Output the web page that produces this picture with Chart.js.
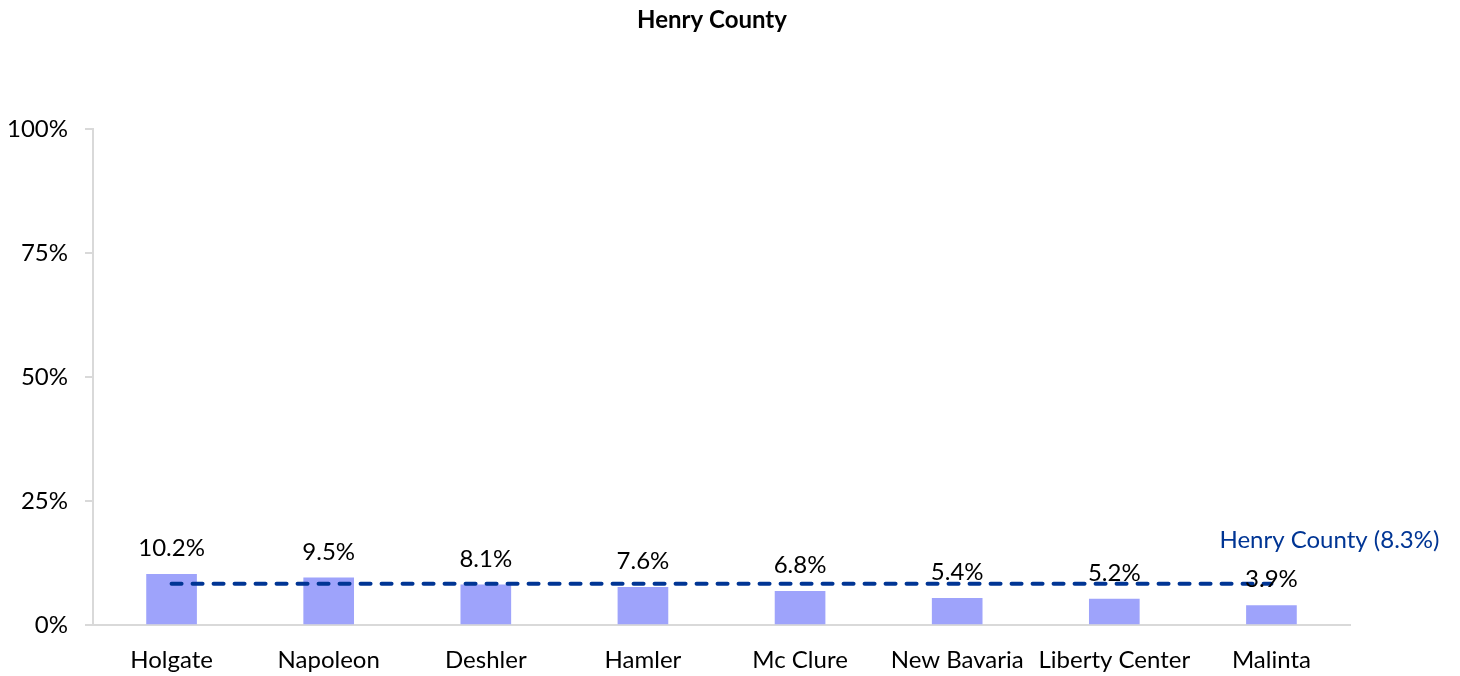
<!DOCTYPE html>
<html>
<head>
<meta charset="utf-8">
<script src="https://cdn.jsdelivr.net/npm/chart.js@4/dist/chart.umd.min.js"></script>
<style>
  body { margin: 0; background: #fff; }
  #wrap { width: 1460px; height: 676px; }
</style>
</head>
<body>
<div id="wrap"><canvas id="chart" width="1460" height="676"></canvas></div>
<script>
// data
const places = ['Holgate', 'Napoleon', 'Deshler', 'Hamler', 'Mc Clure', 'New Bavaria', 'Liberty Center', 'Malinta'];
const rates = [10.2, 9.5, 8.1, 7.6, 6.8, 5.4, 5.2, 3.9];
const countyRate = 8.3;
const countyName = 'Henry County';
const yTicks = [0, 25, 50, 75, 100];

const FONT = 'Lato, "Noto Sans", sans-serif';

// value labels above the bars + the county line label
const labelsPlugin = {
    id: 'labels',
    afterDatasetsDraw(chart) {
        const ctx = chart.ctx;
        ctx.save();
        ctx.font = '24px ' + FONT;
        ctx.textAlign = 'center';
        ctx.textBaseline = 'middle';
        ctx.fillStyle = '#000';
        const bars = chart.getDatasetMeta(1).data;
        bars.forEach((bar, i) => {
            ctx.fillText(rates[i].toFixed(1) + '%', bar.x, bar.y - 26);
        });
        const line = chart.getDatasetMeta(0).data;
        const last = line[line.length - 1];
        ctx.fillStyle = '#003594';
        ctx.textAlign = 'left';
        ctx.fillText(countyName + ' (' + countyRate + '%)', last.x - 52, last.y - 44);
        ctx.restore();
    }
};

new Chart(document.getElementById('chart'), {
    data: {
        labels: places,
        datasets: [{
            type: 'line',
            data: places.map(() => countyRate),
            borderColor: '#003594',
            borderWidth: 4,
            borderDash: [10, 11],
            borderCapStyle: 'round',
            pointRadius: 0,
            fill: false
        }, {
            type: 'bar',
            data: rates,
            backgroundColor: '#9ea3fb',
            barThickness: 50
        }]
    },
    options: {
        responsive: false,
        animation: false,
        layout: { padding: { left: 9, right: 45, top: 0, bottom: 0 } },
        plugins: {
            legend: { display: false },
            tooltip: { enabled: false },
            title: {
                display: true,
                text: countyName,
                color: '#000',
                font: { family: FONT, size: 24, weight: 'bold' },
                padding: { top: 6, bottom: 94 }
            }
        },
        scales: {
            x: {
                afterFit: (axis) => { axis.height = 51; },
                grid: { display: false, drawTicks: false },
                border: { color: '#d9d9d9', width: 2 },
                ticks: { color: '#000', font: { family: FONT, size: 24 }, padding: 21, maxRotation: 0, autoSkip: false }
            },
            y: {
                min: 0,
                max: 100,
                afterFit: (axis) => { axis.width = 84; },
                afterBuildTicks: (axis) => { axis.ticks = yTicks.map(v => ({ value: v })); },
                grid: { drawOnChartArea: false, color: '#d9d9d9', tickLength: 8, lineWidth: 2 },
                border: { color: '#d9d9d9', width: 2 },
                ticks: { color: '#000', font: { family: FONT, size: 24 }, padding: 17, callback: v => v + '%' }
            },
            // empty right-hand axis: room for the county label
            yRight: {
                position: 'right',
                afterFit: (axis) => { axis.width = 65; },
                grid: { display: false },
                border: { display: false },
                ticks: { display: false }
            }
        }
    },
    plugins: [labelsPlugin]
});
</script>
</body>
</html>
